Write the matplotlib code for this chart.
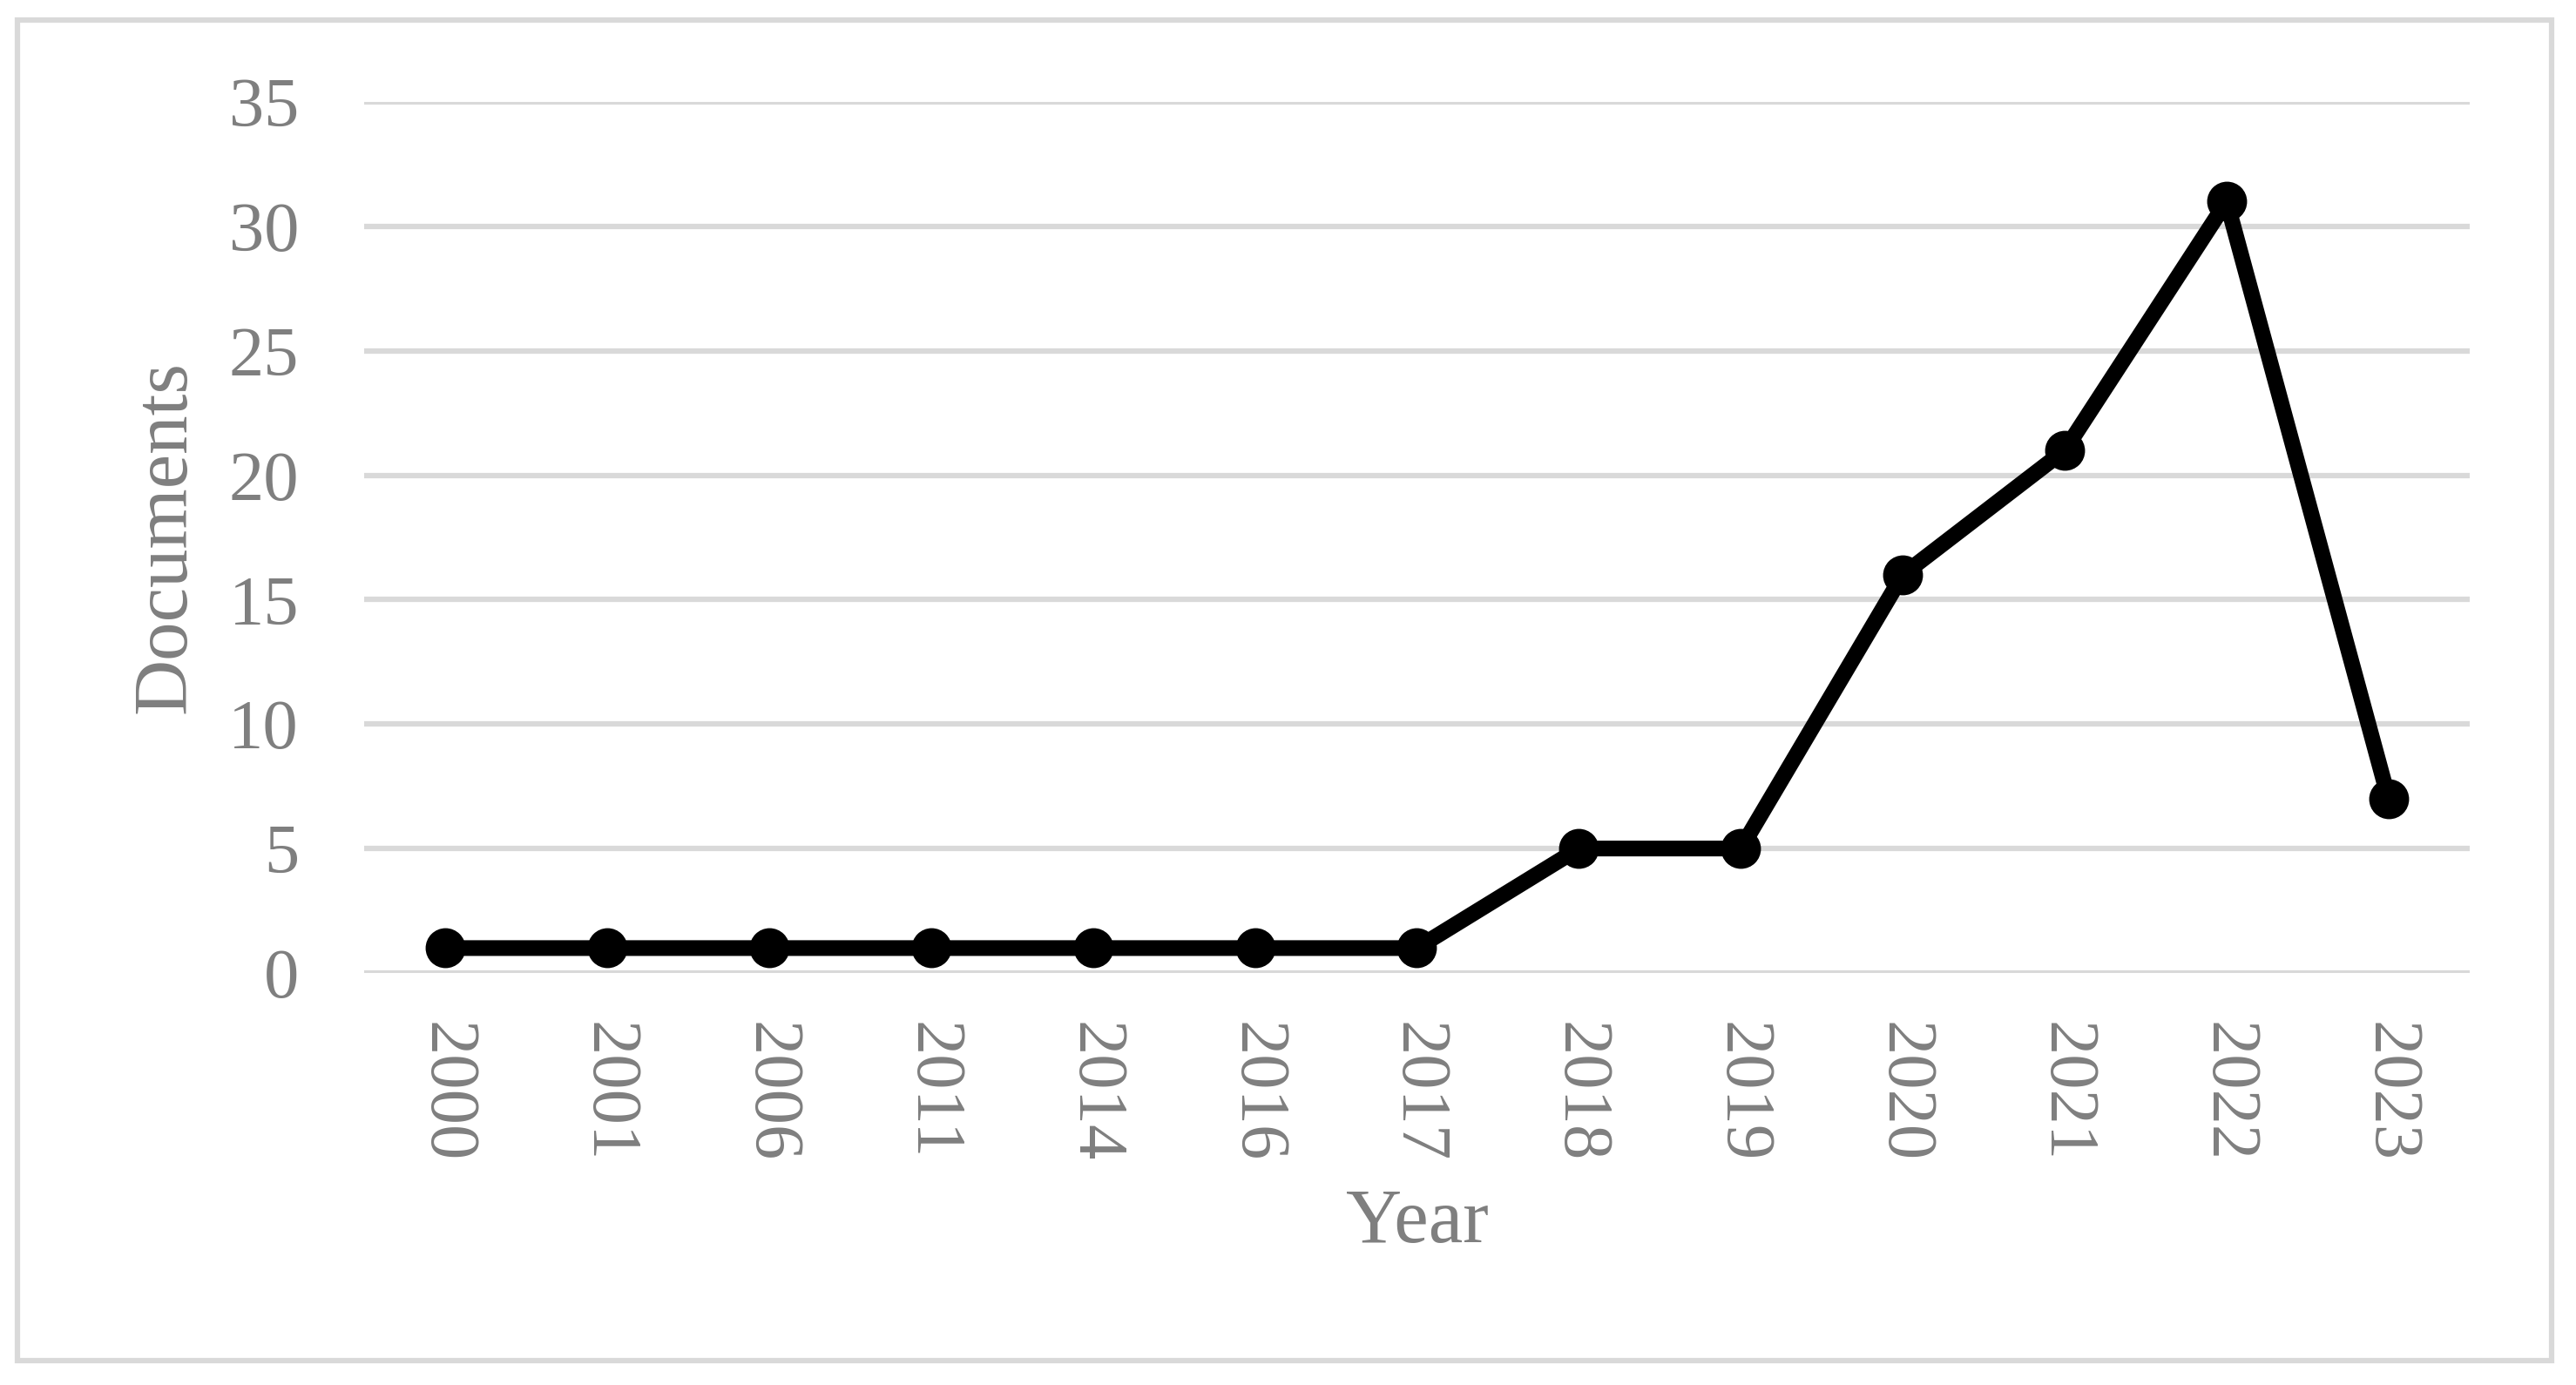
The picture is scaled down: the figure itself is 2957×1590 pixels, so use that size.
import matplotlib
matplotlib.use("Agg")
import matplotlib.pyplot as plt
from matplotlib.patches import Rectangle

years = ["2000", "2001", "2006", "2011", "2014", "2016", "2017",
         "2018", "2019", "2020", "2021", "2022", "2023"]
documents = [1, 1, 1, 1, 1, 1, 1, 5, 5, 16, 21, 31, 7]
y_ticks = [0, 5, 10, 15, 20, 25, 30, 35]

grey = "#7f7f7f"
grid_col = "#d9d9d9"
plt.rcParams['font.family'] = ['Liberation Serif', 'DejaVu Serif']

fig = plt.figure(figsize=(29.57, 15.90), dpi=100)
ax = fig.add_axes([0.1414, 0.2975, 0.8173, 0.6289])

x = list(range(len(years)))
ax.plot(x, documents, '-o', color='black', linewidth=13,
        markersize=32, solid_joinstyle='miter', zorder=3)

ax.set_xlim(-0.5, len(years) - 0.5)
ax.set_ylim(0, 35)
ax.set_yticks(y_ticks)
ax.set_xticks(x)
ax.set_xticklabels(years, rotation=270)
ax.tick_params(axis='both', length=0, labelsize=58, labelcolor=grey)
ax.tick_params(axis='x', pad=40)
ax.tick_params(axis='y', pad=54)
for s in ax.spines.values():
    s.set_visible(False)
ax.yaxis.grid(True, color=grid_col, linewidth=4.5)
ax.set_axisbelow(True)

ax.set_xlabel("Year", fontsize=64, color=grey, labelpad=22)
ax.set_ylabel("Documents", fontsize=64, color=grey, labelpad=22)

fig.patches.append(Rectangle((20 / 2957, 28 / 1590), 2909 / 2957, 1539 / 1590,
                             transform=fig.transFigure, fill=False,
                             edgecolor=grid_col, linewidth=4.5))

fig.savefig("out.png", dpi=100)
